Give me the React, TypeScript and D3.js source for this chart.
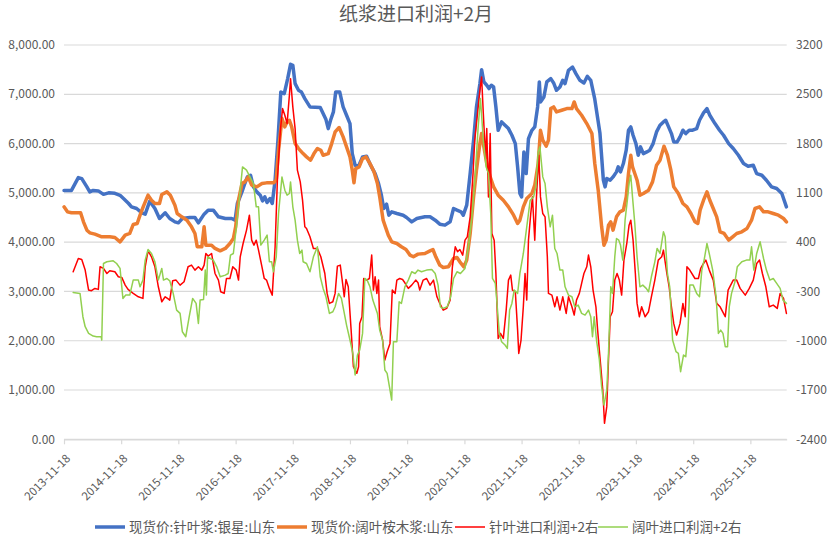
import { useRef, useEffect } from 'react';
import * as d3 from 'd3';

// times are decimal years
const softwoodSpot: [number, number][] = [
  [2013.88,5050],[2014.01,5050],[2014.13,5310],[2014.19,5290],[2014.28,5120],[2014.33,5020],[2014.39,5050],[2014.48,5040],[2014.57,4970],[2014.66,5000],[2014.77,4990],[2014.86,4950],[2014.92,4885],[2015.01,4784],[2015.06,4716],[2015.15,4683],[2015.24,4595],[2015.30,4568],[2015.38,4831],[2015.47,4683],[2015.55,4480],[2015.65,4595],[2015.73,4480],[2015.82,4412],[2015.88,4392],[2015.95,4480],[2016.08,4500],[2016.17,4500],[2016.23,4392],[2016.33,4568],[2016.40,4649],[2016.49,4649],[2016.58,4514],[2016.70,4480],[2016.81,4480],[2016.87,4446],[2016.91,4784],[2016.99,5020],[2017.04,5189],[2017.085,5324],[2017.14,5358],[2017.19,5122],[2017.25,5020],[2017.31,4953],[2017.35,4838],[2017.39,4919],[2017.43,4804],[2017.48,4885],[2017.52,4784],[2017.57,5257],[2017.62,6068],[2017.67,7047],[2017.73,7014],[2017.79,7318],[2017.84,7608],[2017.88,7588],[2017.92,7216],[2017.98,7081],[2018.03,7047],[2018.09,6912],[2018.18,6743],[2018.36,6730],[2018.41,6608],[2018.46,6487],[2018.50,6304],[2018.54,6473],[2018.59,6642],[2018.63,7047],[2018.70,7047],[2018.76,6743],[2018.82,6575],[2018.88,6406],[2018.92,5797],[2018.97,5561],[2019.03,5541],[2019.10,5730],[2019.17,5743],[2019.24,5561],[2019.32,5392],[2019.38,5189],[2019.43,4953],[2019.47,4683],[2019.52,4770],[2019.56,4547],[2019.61,4615],[2019.70,4581],[2019.81,4547],[2019.87,4500],[2019.96,4412],[2020.05,4480],[2020.19,4514],[2020.28,4514],[2020.37,4446],[2020.45,4365],[2020.54,4345],[2020.63,4412],[2020.69,4683],[2020.75,4649],[2020.82,4615],[2020.86,4547],[2020.92,4750],[2020.98,5392],[2021.04,6068],[2021.09,6743],[2021.15,7216],[2021.18,7500],[2021.22,7250],[2021.27,7183],[2021.31,7115],[2021.35,7183],[2021.39,7149],[2021.43,6743],[2021.47,6270],[2021.53,6440],[2021.59,6372],[2021.65,6304],[2021.71,6169],[2021.77,6000],[2021.81,5527],[2021.85,4987],[2021.88,4919],[2021.92,5831],[2021.96,5392],[2022.00,6101],[2022.06,6270],[2022.11,6338],[2022.16,6743],[2022.19,7250],[2022.21,6845],[2022.27,6946],[2022.32,7250],[2022.39,7318],[2022.44,7230],[2022.49,7081],[2022.55,7149],[2022.60,7284],[2022.64,7216],[2022.70,7487],[2022.77,7554],[2022.83,7419],[2022.90,7284],[2022.97,7230],[2023.03,7365],[2023.09,7284],[2023.16,6900],[2023.25,6215],[2023.31,5261],[2023.34,5122],[2023.37,5290],[2023.43,5257],[2023.48,5324],[2023.54,5426],[2023.57,5527],[2023.61,5426],[2023.66,5595],[2023.71,5865],[2023.75,6271],[2023.79,6338],[2023.83,6169],[2023.88,6000],[2023.92,5764],[2023.96,5933],[2024.01,5797],[2024.07,5831],[2024.12,5865],[2024.18,6000],[2024.24,6237],[2024.30,6372],[2024.36,6440],[2024.40,6473],[2024.45,6338],[2024.50,6203],[2024.54,6034],[2024.60,6034],[2024.65,6135],[2024.70,6271],[2024.75,6203],[2024.81,6271],[2024.87,6271],[2024.94,6304],[2024.99,6473],[2025.06,6622],[2025.12,6710],[2025.17,6575],[2025.26,6406],[2025.34,6271],[2025.41,6169],[2025.50,6000],[2025.58,5899],[2025.67,5764],[2025.76,5595],[2025.84,5541],[2025.93,5561],[2025.99,5392],[2026.08,5358],[2026.16,5257],[2026.25,5122],[2026.34,5088],[2026.43,4987],[2026.51,4716],
];

const hardwoodSpot: [number, number][] = [
  [2013.88,4716],[2013.94,4615],[2014.01,4595],[2014.17,4595],[2014.22,4412],[2014.28,4243],[2014.33,4189],[2014.42,4162],[2014.54,4108],[2014.68,4108],[2014.77,4095],[2014.86,4007],[2014.95,4142],[2015.03,4176],[2015.09,4358],[2015.16,4379],[2015.21,4547],[2015.27,4730],[2015.35,4953],[2015.41,4851],[2015.47,4784],[2015.55,4784],[2015.59,4966],[2015.68,5020],[2015.74,4953],[2015.82,4750],[2015.86,4581],[2015.94,4514],[2016.03,4446],[2016.11,4311],[2016.17,4176],[2016.21,3906],[2016.29,3906],[2016.33,4311],[2016.36,3939],[2016.46,3939],[2016.52,3872],[2016.61,3824],[2016.70,3872],[2016.78,3973],[2016.84,4074],[2016.88,4311],[2016.93,4851],[2016.99,5189],[2017.04,5223],[2017.10,5324],[2017.16,5156],[2017.25,5122],[2017.34,5189],[2017.42,5203],[2017.54,5203],[2017.59,5257],[2017.63,5865],[2017.69,6507],[2017.74,6338],[2017.77,6419],[2017.82,6473],[2017.86,6338],[2017.92,6000],[2017.98,5899],[2018.06,5797],[2018.12,5730],[2018.19,5662],[2018.25,5797],[2018.31,5899],[2018.37,5865],[2018.41,5764],[2018.50,5797],[2018.56,6000],[2018.62,6237],[2018.69,6325],[2018.76,6135],[2018.82,5933],[2018.88,5730],[2018.92,5460],[2018.95,5203],[2018.98,5493],[2019.04,5527],[2019.10,5696],[2019.16,5730],[2019.23,5595],[2019.30,5426],[2019.36,5189],[2019.40,4919],[2019.46,4446],[2019.50,4311],[2019.55,4142],[2019.61,4007],[2019.70,3973],[2019.78,3906],[2019.86,3851],[2019.93,3737],[2019.99,3703],[2020.07,3757],[2020.19,3770],[2020.28,3824],[2020.33,3851],[2020.38,3703],[2020.45,3534],[2020.51,3487],[2020.60,3500],[2020.69,3669],[2020.75,3689],[2020.80,3601],[2020.87,3500],[2020.92,3635],[2020.98,4176],[2021.04,4919],[2021.09,5460],[2021.15,6000],[2021.18,6203],[2021.22,5933],[2021.27,5595],[2021.33,5324],[2021.39,5122],[2021.47,4953],[2021.56,4851],[2021.65,4716],[2021.74,4547],[2021.81,4379],[2021.85,4446],[2021.91,4716],[2021.97,4885],[2022.06,4987],[2022.11,5156],[2022.17,5595],[2022.21,6270],[2022.25,6068],[2022.31,5946],[2022.35,6068],[2022.39,6710],[2022.44,6743],[2022.49,6642],[2022.58,6676],[2022.67,6710],[2022.76,6710],[2022.80,6845],[2022.84,6710],[2022.93,6575],[2023.02,6406],[2023.11,6203],[2023.16,5595],[2023.22,5054],[2023.28,4311],[2023.32,3939],[2023.36,4041],[2023.40,4345],[2023.44,4412],[2023.48,4243],[2023.54,4514],[2023.60,4615],[2023.66,4649],[2023.71,4919],[2023.75,5392],[2023.79,5764],[2023.82,5527],[2023.86,5392],[2023.90,5257],[2023.95,4953],[2024.01,4987],[2024.10,5054],[2024.17,5223],[2024.24,5561],[2024.30,5662],[2024.37,5946],[2024.43,5764],[2024.49,5460],[2024.54,5122],[2024.62,4987],[2024.70,4784],[2024.77,4716],[2024.84,4581],[2024.91,4412],[2024.96,4379],[2025.00,4649],[2025.06,4851],[2025.12,5020],[2025.17,4851],[2025.23,4683],[2025.29,4514],[2025.35,4210],[2025.42,4176],[2025.50,4041],[2025.57,4108],[2025.64,4176],[2025.73,4210],[2025.82,4277],[2025.90,4446],[2025.96,4683],[2026.04,4716],[2026.11,4615],[2026.19,4615],[2026.28,4581],[2026.37,4547],[2026.46,4480],[2026.51,4412],
];

const softwoodProfit: [number, number][] = [
  [2014.04,-21],[2014.13,168],[2014.19,154],[2014.25,3],[2014.31,-281],[2014.36,-290],[2014.42,-257],[2014.48,-271],[2014.51,50],[2014.57,27],[2014.63,-45],[2014.68,-7],[2014.77,-21],[2014.83,-92],[2014.89,-101],[2014.95,-210],[2015.00,-271],[2015.09,-328],[2015.18,-376],[2015.26,-399],[2015.30,50],[2015.35,277],[2015.41,192],[2015.47,50],[2015.53,-234],[2015.59,-447],[2015.65,-376],[2015.69,-399],[2015.73,-423],[2015.78,-149],[2015.84,-139],[2015.91,-210],[2015.98,-163],[2016.05,50],[2016.11,74],[2016.17,3],[2016.23,50],[2016.29,3],[2016.33,74],[2016.36,239],[2016.40,202],[2016.46,239],[2016.52,-45],[2016.58,-139],[2016.62,-305],[2016.68,-328],[2016.72,-116],[2016.78,-116],[2016.83,50],[2016.89,3],[2016.93,-139],[2016.96,192],[2017.01,381],[2017.07,571],[2017.12,783],[2017.16,428],[2017.20,358],[2017.24,428],[2017.28,287],[2017.34,50],[2017.38,-116],[2017.42,-139],[2017.47,-257],[2017.52,-352],[2017.57,334],[2017.61,1280],[2017.66,1966],[2017.70,2297],[2017.74,2202],[2017.78,2084],[2017.82,2486],[2017.84,2722],[2017.88,2321],[2017.92,2013],[2017.96,1422],[2018.01,1256],[2018.05,996],[2018.09,618],[2018.12,594],[2018.18,476],[2018.24,310],[2018.31,310],[2018.37,192],[2018.44,-45],[2018.48,-328],[2018.52,-470],[2018.58,-447],[2018.62,-328],[2018.66,60],[2018.71,74],[2018.74,-116],[2018.78,-376],[2018.81,-130],[2018.85,-234],[2018.90,-849],[2018.94,-1369],[2019.00,-1463],[2019.03,-1369],[2019.05,-754],[2019.09,-659],[2019.12,-116],[2019.17,-139],[2019.22,-116],[2019.26,216],[2019.29,-281],[2019.32,-92],[2019.35,-328],[2019.38,-139],[2019.40,-801],[2019.45,-990],[2019.49,-1274],[2019.53,-1156],[2019.58,-1038],[2019.62,-281],[2019.67,-328],[2019.70,-139],[2019.75,-116],[2019.80,-130],[2019.84,-177],[2019.90,-257],[2019.96,-210],[2020.03,-139],[2020.07,-177],[2020.10,-281],[2020.16,-139],[2020.22,-116],[2020.28,-210],[2020.34,-139],[2020.40,-376],[2020.45,-470],[2020.51,-565],[2020.57,-541],[2020.63,-423],[2020.67,50],[2020.72,334],[2020.76,263],[2020.80,296],[2020.85,216],[2020.89,428],[2020.93,476],[2020.98,760],[2021.03,1375],[2021.06,1847],[2021.12,2321],[2021.15,2557],[2021.18,2746],[2021.21,2226],[2021.25,1587],[2021.27,2013],[2021.30,1043],[2021.33,1942],[2021.36,523],[2021.40,428],[2021.43,-45],[2021.47,-967],[2021.51,-896],[2021.56,-967],[2021.61,-565],[2021.65,-139],[2021.69,-68],[2021.72,-281],[2021.77,-305],[2021.81,-849],[2021.83,-1180],[2021.87,-990],[2021.91,-518],[2021.94,-45],[2021.97,-423],[2022.00,428],[2022.04,807],[2022.07,1043],[2022.11,428],[2022.14,1043],[2022.18,1635],[2022.21,1043],[2022.25,807],[2022.29,760],[2022.31,476],[2022.33,192],[2022.35,-328],[2022.41,-352],[2022.46,-518],[2022.50,-376],[2022.55,-565],[2022.60,-376],[2022.66,-612],[2022.70,-376],[2022.76,-518],[2022.80,-636],[2022.84,-423],[2022.89,-328],[2022.93,-186],[2022.97,-45],[2023.02,50],[2023.05,216],[2023.09,50],[2023.13,-281],[2023.18,-518],[2023.21,-849],[2023.25,-1227],[2023.30,-1700],[2023.33,-2173],[2023.37,-1936],[2023.40,-1274],[2023.43,-659],[2023.47,-588],[2023.51,-139],[2023.55,-45],[2023.59,-139],[2023.63,-352],[2023.67,145],[2023.72,381],[2023.76,641],[2023.79,712],[2023.83,428],[2023.87,-45],[2023.90,-470],[2023.94,-659],[2023.98,-518],[2024.04,-659],[2024.10,-588],[2024.15,-376],[2024.21,-139],[2024.27,145],[2024.33,192],[2024.36,287],[2024.42,-45],[2024.46,-234],[2024.50,-518],[2024.54,-754],[2024.59,-920],[2024.65,-754],[2024.70,-470],[2024.74,-659],[2024.77,50],[2024.82,3],[2024.91,-116],[2024.97,-116],[2025.01,27],[2025.06,97],[2025.10,145],[2025.16,3],[2025.23,-139],[2025.29,-470],[2025.35,-518],[2025.44,-659],[2025.49,-281],[2025.58,-139],[2025.64,-139],[2025.70,-257],[2025.79,-352],[2025.86,-257],[2025.93,-139],[2025.99,97],[2026.04,145],[2026.09,-45],[2026.15,-234],[2026.21,-518],[2026.28,-494],[2026.35,-541],[2026.40,-328],[2026.46,-399],[2026.51,-612],
];

const hardwoodProfit: [number, number][] = [
  [2014.04,-314],[2014.16,-328],[2014.21,-659],[2014.25,-801],[2014.31,-896],[2014.39,-934],[2014.45,-943],[2014.53,-943],[2014.54,-990],[2014.57,97],[2014.63,121],[2014.74,135],[2014.80,97],[2014.86,27],[2014.91,-399],[2014.96,-352],[2015.03,-352],[2015.09,-139],[2015.18,-139],[2015.21,-234],[2015.26,-139],[2015.30,145],[2015.35,296],[2015.41,239],[2015.47,121],[2015.53,-139],[2015.59,27],[2015.62,-139],[2015.68,-116],[2015.73,-149],[2015.79,-328],[2015.85,-565],[2015.91,-612],[2015.95,-872],[2016.01,-943],[2016.07,-659],[2016.13,-399],[2016.19,-470],[2016.23,-754],[2016.26,-423],[2016.32,-413],[2016.35,3],[2016.37,-352],[2016.39,192],[2016.44,168],[2016.49,145],[2016.55,50],[2016.61,-92],[2016.70,-68],[2016.75,-45],[2016.79,216],[2016.84,239],[2016.90,665],[2016.96,1138],[2017.00,1469],[2017.07,1422],[2017.13,1327],[2017.19,1233],[2017.24,902],[2017.28,902],[2017.32,358],[2017.38,428],[2017.43,500],[2017.47,121],[2017.51,121],[2017.54,-21],[2017.59,192],[2017.63,807],[2017.69,1327],[2017.74,1138],[2017.78,1067],[2017.82,1091],[2017.84,1256],[2017.88,902],[2017.92,712],[2017.96,428],[2018.00,239],[2018.04,287],[2018.06,121],[2018.12,97],[2018.18,-21],[2018.24,192],[2018.31,334],[2018.36,-92],[2018.41,-257],[2018.46,-376],[2018.52,-612],[2018.58,-588],[2018.62,-518],[2018.68,-328],[2018.73,-399],[2018.77,-565],[2018.82,-778],[2018.88,-990],[2018.93,-1180],[2018.97,-1487],[2019.01,-1203],[2019.05,-1132],[2019.10,-896],[2019.14,-116],[2019.18,-139],[2019.23,-234],[2019.28,-423],[2019.32,-518],[2019.36,-612],[2019.40,-849],[2019.45,-990],[2019.49,-1416],[2019.53,-1463],[2019.57,-1653],[2019.61,-1842],[2019.64,-1014],[2019.70,-1014],[2019.74,-447],[2019.78,-470],[2019.84,-234],[2019.90,-139],[2019.96,-21],[2020.02,-45],[2020.07,3],[2020.13,-21],[2020.22,3],[2020.31,12],[2020.37,-45],[2020.42,-210],[2020.46,-518],[2020.51,-541],[2020.58,-518],[2020.64,-376],[2020.69,-116],[2020.75,-21],[2020.81,-45],[2020.89,27],[2020.95,334],[2021.01,760],[2021.07,1375],[2021.12,2037],[2021.16,2439],[2021.21,1847],[2021.26,1469],[2021.30,1375],[2021.34,807],[2021.37,-116],[2021.42,-186],[2021.44,-376],[2021.49,-896],[2021.53,-1014],[2021.59,-1061],[2021.63,-1109],[2021.67,-565],[2021.71,-470],[2021.75,-281],[2021.81,-328],[2021.85,-45],[2021.91,239],[2021.97,618],[2022.03,996],[2022.09,1043],[2022.13,1185],[2022.17,1682],[2022.20,1753],[2022.25,1327],[2022.29,1233],[2022.33,902],[2022.38,618],[2022.42,783],[2022.46,310],[2022.50,239],[2022.55,3],[2022.60,3],[2022.64,-234],[2022.70,-352],[2022.76,-376],[2022.81,-518],[2022.87,-494],[2022.93,-612],[2022.99,-636],[2023.05,-565],[2023.09,-659],[2023.12,-943],[2023.15,-659],[2023.19,-990],[2023.24,-1274],[2023.28,-1653],[2023.32,-1913],[2023.37,-1700],[2023.40,-1180],[2023.44,-234],[2023.47,-328],[2023.51,192],[2023.54,452],[2023.58,428],[2023.61,358],[2023.65,145],[2023.69,712],[2023.73,996],[2023.76,1233],[2023.79,1351],[2023.82,1043],[2023.86,665],[2023.90,192],[2023.95,-234],[2024.00,-210],[2024.06,-257],[2024.10,-305],[2024.15,-92],[2024.21,121],[2024.25,310],[2024.30,239],[2024.36,547],[2024.39,476],[2024.43,-45],[2024.47,-234],[2024.52,-990],[2024.58,-1156],[2024.62,-1180],[2024.66,-1440],[2024.71,-1203],[2024.75,-1227],[2024.79,-849],[2024.82,-210],[2024.88,-210],[2024.94,-328],[2024.99,-376],[2025.03,3],[2025.07,145],[2025.12,381],[2025.16,239],[2025.22,3],[2025.28,-376],[2025.32,-896],[2025.36,-849],[2025.40,-896],[2025.44,-1085],[2025.48,-1085],[2025.51,-518],[2025.55,-328],[2025.61,-163],[2025.65,50],[2025.73,121],[2025.81,145],[2025.87,145],[2025.90,334],[2025.94,3],[2025.99,239],[2026.05,405],[2026.11,168],[2026.16,3],[2026.22,-139],[2026.28,-116],[2026.34,-186],[2026.40,-257],[2026.45,-423],[2026.51,-470],
];

const seriesNames = ['现货价:针叶浆:银星:山东', '现货价:阔叶桉木浆:山东', '针叶进口利润+2右', '阔叶进口利润+2右'];
const seriesColors = ['#4472C4', '#ED7D31', '#FF0000', '#92D050'];
const tickYears = [2013, 2014, 2015, 2016, 2017, 2018, 2019, 2020, 2021, 2022, 2023, 2024, 2025];
const leftTicks = [0, 1000, 2000, 3000, 4000, 5000, 6000, 7000, 8000];
const rightTicks = [-2400, -1700, -1000, -300, 400, 1100, 1800, 2500, 3200];
const title = '纸浆进口利润+2月';

const toDate = (y: number) => {
  const yr = Math.floor(y);
  const a = Date.UTC(yr, 0, 1);
  const b = Date.UTC(yr + 1, 0, 1);
  return new Date(a + (y - yr) * (b - a));
};

const App = () => {
  const svgRef = useRef<SVGSVGElement>(null);

  useEffect(() => {
    if (!svgRef.current) return;

    const width = 831;
    const height = 538;
    const left = 64;
    const right = 786.7;
    const top = 45;
    const bottom = 439.3;
    const font = '"Noto Sans CJK SC", "Noto Sans", sans-serif';
    const textColor = '#595959';
    const gridColor = '#D9D9D9';

    const svg = d3.select(svgRef.current).attr('width', width).attr('height', height);
    svg.selectAll('*').remove();

    svg.append('rect').attr('width', width).attr('height', height).attr('fill', '#fff');

    const x = d3.scaleUtc().domain([new Date(Date.UTC(2013, 10, 18)), toDate(2026.515)]).range([left, right]);
    const yL = d3.scaleLinear().domain([0, 8000]).range([bottom, top]);
    const yR = d3.scaleLinear().domain([-2400, 3200]).range([bottom, top]);

    // grid
    svg.append('g')
      .selectAll('line')
      .data(leftTicks)
      .enter()
      .append('line')
      .attr('x1', left)
      .attr('x2', right)
      .attr('y1', (d) => yL(d))
      .attr('y2', (d) => yL(d))
      .attr('stroke', gridColor)
      .attr('stroke-width', 1.2);

    // x axis
    const tickDates = tickYears.map((y) => new Date(Date.UTC(y, 10, 18)));
    const fmt = d3.utcFormat('%Y-%m-%d');
    const xAxis = svg.append('g')
      .attr('transform', `translate(0,${bottom})`)
      .call(d3.axisBottom(x).tickValues(tickDates).tickSize(5).tickSizeOuter(0).tickFormat(() => ''));
    xAxis.select('.domain').attr('stroke', gridColor).attr('stroke-width', 1.2);
    xAxis.selectAll('.tick line').attr('stroke', gridColor).attr('stroke-width', 1.2);

    svg.append('g')
      .selectAll('text')
      .data(tickDates)
      .enter()
      .append('text')
      .attr('transform', (d) => `translate(${x(d) + 7},${bottom + 20}) rotate(-45)`)
      .attr('text-anchor', 'end')
      .attr('font-family', font)
      .attr('font-size', 11.5)
      .attr('fill', textColor)
      .text((d) => fmt(d));

    // y labels
    const fmtL = d3.format(',.2f');
    svg.append('g')
      .selectAll('text')
      .data(leftTicks)
      .enter()
      .append('text')
      .attr('x', 55)
      .attr('y', (d) => yL(d))
      .attr('dy', '0.35em')
      .attr('text-anchor', 'end')
      .attr('font-family', font)
      .attr('font-size', 12)
      .attr('fill', textColor)
      .text((d) => fmtL(d));

    svg.append('g')
      .selectAll('text')
      .data(rightTicks)
      .enter()
      .append('text')
      .attr('x', 796)
      .attr('y', (d) => yR(d))
      .attr('dy', '0.35em')
      .attr('font-family', font)
      .attr('font-size', 12)
      .attr('fill', textColor)
      .text((d) => String(d));

    // lines
    const lineL = d3.line<[number, number]>().x((d) => x(toDate(d[0]))).y((d) => yL(d[1]));
    const lineR = d3.line<[number, number]>().x((d) => x(toDate(d[0]))).y((d) => yR(d[1]));
    const layers: { data: [number, number][]; gen: typeof lineL; color: string; w: number }[] = [
      { data: softwoodSpot, gen: lineL, color: seriesColors[0], w: 3.5 },
      { data: hardwoodSpot, gen: lineL, color: seriesColors[1], w: 3.5 },
      { data: softwoodProfit, gen: lineR, color: seriesColors[2], w: 1.5 },
      { data: hardwoodProfit, gen: lineR, color: seriesColors[3], w: 1.5 },
    ];
    layers.forEach((l) => {
      svg.append('path')
        .attr('d', l.gen(l.data))
        .attr('fill', 'none')
        .attr('stroke', l.color)
        .attr('stroke-width', l.w)
        .attr('stroke-linejoin', 'round')
        .attr('stroke-linecap', 'round');
    });

    // title
    svg.append('text')
      .attr('x', 416)
      .attr('y', 21)
      .attr('text-anchor', 'middle')
      .attr('font-family', font)
      .attr('font-size', 19)
      .attr('fill', textColor)
      .text(title);

    // legend
    const legendX = [95, 277, 455, 598];
    const legendW = [3.5, 3.5, 1.5, 1.5];
    const legend = svg.append('g');
    seriesNames.forEach((name, i) => {
      legend.append('line')
        .attr('x1', legendX[i])
        .attr('x2', legendX[i] + 30)
        .attr('y1', 527)
        .attr('y2', 527)
        .attr('stroke', seriesColors[i])
        .attr('stroke-width', legendW[i]);
      legend.append('text')
        .attr('x', legendX[i] + 34)
        .attr('y', 527)
        .attr('dy', '0.35em')
        .attr('font-family', font)
        .attr('font-size', 13.5)
        .attr('fill', textColor)
        .text(name);
    });
  }, []);

  return (
    <div style={{ position: 'absolute', left: 0, top: 0 }}>
      <svg ref={svgRef} style={{ display: 'block' }}></svg>
    </div>
  );
};

export default App;
